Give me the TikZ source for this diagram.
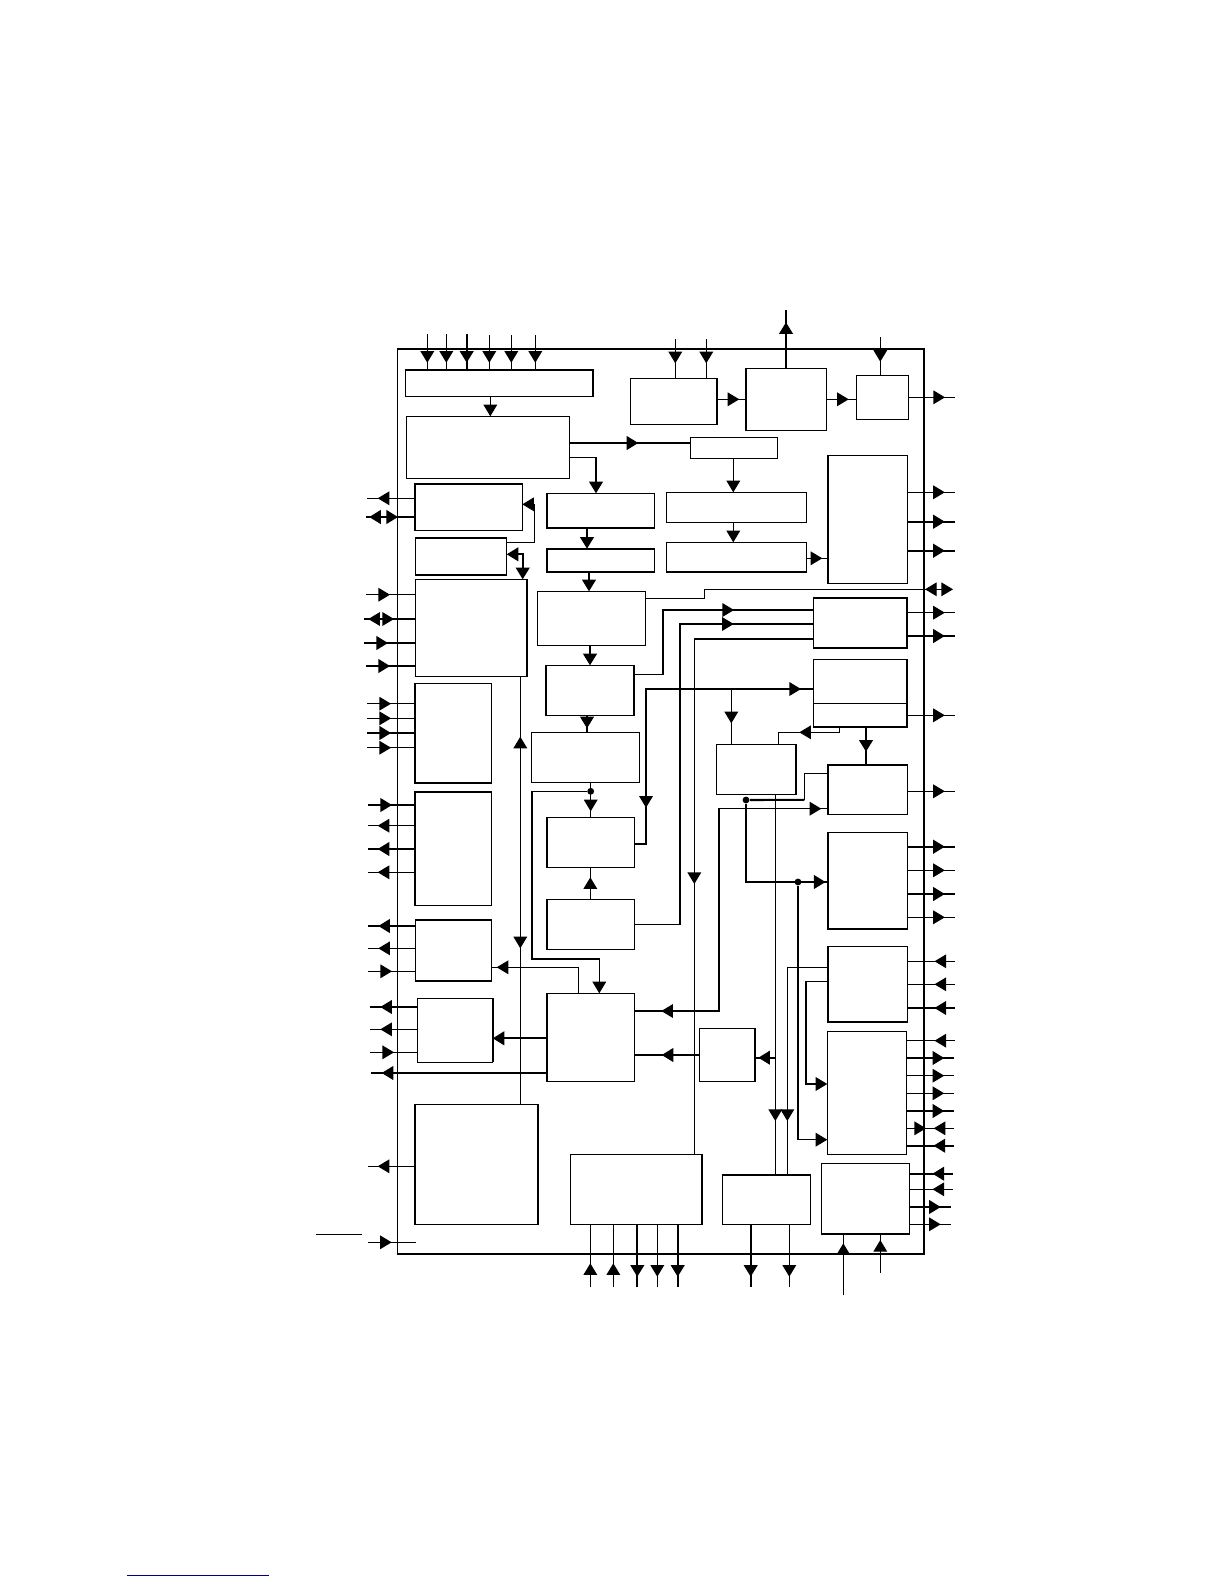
\documentclass[tikz,border=0pt]{standalone}
\usetikzlibrary{arrows.meta,fit,decorations.markings}
\definecolor{linkblue}{RGB}{0,0,128}
\tikzset{
  >={Triangle[length=5.8bp,width=6.8bp]},
  wire/.style={line width=0.6bp, draw=black},
  bus/.style={line width=1.05bp, draw=black},
  blk/.style={wire, inner sep=0pt, outer sep=0pt},
  dot/.style={circle, fill=black, inner sep=0pt, minimum size=3.4bp},
  tipat/.style={postaction={decorate, decoration={markings,
    mark=at position #1*0.5bp with {\arrow{>}}}}},
  tipback/.style={postaction={decorate, decoration={markings,
    mark=at position #1*0.5bp with {\arrowreversed{>}}}}},
}
\begin{document}
\begin{tikzpicture}[x=0.5bp,y=-0.5bp]
    \useasboundingbox (0,0) rectangle (1224,1584);
    \node[blk, fit={(397.5,349) (924,1254)}] (chip) {};

    \node[blk, fit={(405.5,370) (593,396.5)}] (hdr) {};
    \node[blk, fit={(406.3,416.3) (569.3,478.3)}] (ctl) {};
    \node[blk, fit={(414.7,483.7) (522.3,530.3)}] (l1) {};
    \node[blk, fit={(415.3,538) (506.7,575.3)}] (l2) {};
    \node[blk, fit={(415.3,579.3) (527.3,676.7)}] (l3) {};
    \node[blk, fit={(414.7,683.3) (491.7,783)}] (l4) {};
    \node[blk, fit={(414.7,792) (491.7,905.7)}] (l5) {};
    \node[blk, fit={(415.3,919.7) (491.7,981.3)}] (l6) {};
    \node[blk, fit={(417.3,998.3) (492.7,1062.3)}] (l7) {};
    \node[blk, fit={(414.7,1104.3) (538.3,1224.7)}] (l8) {};

    \node[blk, fit={(546.7,493.3) (654.3,528.3)}] (m1) {};
    \node[blk, fit={(546.7,548.7) (654.3,572.3)}] (m2) {};
    \node[blk, fit={(537.3,591.3) (645.7,645.3)}] (m3) {};
    \node[blk, fit={(545.7,665.3) (634.3,715.3)}] (m4) {};
    \node[blk, fit={(531.3,732.3) (639.7,782.3)}] (m5) {};
    \node[blk, fit={(546.7,817.3) (634.3,867.3)}] (m6) {};
    \node[blk, fit={(546.7,899.3) (634.3,949.3)}] (m7) {};
    \node[blk, fit={(546.7,993.3) (634.3,1081.3)}] (m8) {};
    \node[blk, fit={(570.3,1154.3) (702.3,1224.7)}] (m9) {};

    \node[blk, fit={(630.3,378.3) (717.3,424.3)}] (t1) {};
    \node[blk, fit={(745.7,368.3) (826.7,430.3)}] (t2) {};
    \node[blk, fit={(856.3,375.3) (908.7,419.3)}] (t3) {};
    \node[blk, fit={(690.3,437.3) (777.3,458.3)}] (t4) {};
    \node[blk, fit={(666.3,492.3) (806.7,522.3)}] (x1) {};
    \node[blk, fit={(666.3,542.3) (806.7,572.3)}] (x2) {};

    \node[blk, fit={(827.7,455.3) (907.3,583.7)}] (r1) {};
    \node[blk, fit={(813.3,597.7) (907.3,648)}] (r2) {};
    \node[blk, fit={(813.3,659.3) (907.3,727)}] (r3) {};
    \node[blk, fit={(827.7,765) (907.3,814.7)}] (r4) {};
    \node[blk, fit={(827.7,832.7) (907.3,929)}] (r5) {};
    \node[blk, fit={(827.7,946.7) (907.3,1022.3)}] (r6) {};
    \node[blk, fit={(827.3,1031.3) (906.7,1154.3)}] (r7) {};
    \node[blk, fit={(821.3,1163.3) (909.7,1234)}] (r8) {};

    \node[blk, fit={(716.3,744.3) (796.3,794.3)}] (c1) {};
    \node[blk, fit={(699.3,1028.3) (755.3,1081.3)}] (c2) {};
    \node[blk, fit={(722.3,1174.7) (810.7,1224.7)}] (c3) {};

    \foreach \n in {chip,hdr,l1,l2,l5,l6,m2,r2,r4,c3}
      \draw[bus] (\n.north west) -- (\n.north east);
    \foreach \n in {chip,l2,l4,l6,m1,m2,x2,r2,r3,r5,r6,r8}
      \draw[bus] (\n.south west) -- (\n.south east);
    \foreach \n in {l1,l4,l5,l8,m1,m2,m4,m6,m7,m8,t2,r1,r4,r5,r6}
      \draw[bus] (\n.north west) -- (\n.south west);
    \foreach \n in {hdr,l3,l7,l8,m4,m9,t1,r2,r3,c1,c2}
      \draw[bus] (\n.north east) -- (\n.south east);
    \draw[wire] (r3.west |- 0,703.3) -- (r3.east |- 0,703.3);

    \foreach \n/\y/\s/\x in {l3/594.7/wire/366, l3/643/bus/364, l3/666/bus/366,
        l4/703.7/wire/367, l4/718.3/wire/367, l4/733/bus/367, l4/747.7/wire/367,
        l5/805/bus/368, l6/971.3/wire/368, l7/1052.3/wire/370}{
      \coordinate (pin) at (\x,\y);
      \draw[\s, tipat=24] (pin) -- (\n.west |- pin);
    }
    \foreach \n/\y/\s/\x in {l1/498.3/wire/367, l5/825.7/wire/368, l5/849/bus/368,
        l5/872.3/wire/368, l6/926/bus/368, l6/948.3/wire/368, l7/1007/bus/370,
        l7/1029.3/wire/370, l8/1166.3/wire/368}{
      \coordinate (pin) at (\x,\y);
      \draw[\s, tipat=37] (\n.west |- pin) -- (pin);
    }
    \coordinate (pin) at (366,517);
    \draw[bus, tipat=45.5] (l1.west |- pin) -- (pin);
    \draw[bus, tipat=32] (pin) -- (l1.west |- pin);
    \coordinate (pin) at (364,619);
    \draw[wire, tipat=47, tipback=21.3] (l3.west |- pin) -- (pin);
    \coordinate (pinh) at (368,1242.3);
    \coordinate (pini) at (416,1242.3);
    \draw[wire, tipat=23.7] (pinh) -- (pini);
    \coordinate (barl) at (316,1234.3);
    \coordinate (barr) at (362,1234.3);
    \draw[wire] (barl) -- (barr);

    \foreach \n/\y/\s/\x/\t in {t3/397.3/wire/955/36.3, r1/492.3/wire/955/37.5,
        r1/521.7/bus/955/37.5, r1/550.7/bus/955/37.5, r2/612.7/wire/955/37.5,
        r2/636/bus/955/37.5, r3/715.3/wire/955/37.5, r4/791.3/wire/955/37.5,
        r5/846.7/bus/955/37.5, r5/870.3/wire/955/37.5, r5/894/bus/955/37.5,
        r5/917.3/wire/955/37.5, r7/1058/bus/954/37.5, r7/1075.7/wire/954/37.5,
        r7/1093.3/wire/954/37.5, r7/1111/bus/954/37.5, r8/1207/bus/951/31,
        r8/1224.3/wire/951/31}{
      \coordinate (pin) at (\x,\y);
      \draw[\s, tipat=\t] (\n.east |- pin) -- (pin);
    }
    \foreach \n/\y/\s/\x in {r6/961.3/wire/955, r6/984.3/wire/955, r6/1008/bus/955,
        r7/1040.7/wire/955, r7/1145.7/bus/954, r8/1173.7/bus/953, r8/1189.3/wire/953}{
      \coordinate (pin) at (\x,\y);
      \draw[\s, tipat=20.5] (pin) -- (\n.east |- pin);
    }
    \coordinate (pin) at (954,1128.3);
    \draw[wire, tipat=20.3, tipback=28] (pin) -- (r7.east |- pin);

    \foreach \n/\x/\s/\y/\t in {hdr/427.3/wire/334/28.7, hdr/446.3/wire/334/28.7,
        hdr/466.7/bus/334/28.7, hdr/489.3/wire/335/27.7, hdr/511.3/wire/335/27.7,
        hdr/535.3/wire/335/27.7, t1/675.3/wire/339/24.3, t1/706.3/wire/339/24.3,
        t3/880.3/wire/337/24.7}{
      \coordinate (pin) at (\x,\y);
      \draw[\s, tipat=\t] (pin) -- (\n.north -| pin);
    }
    \foreach \n/\x/\s in {m9/637.3/bus, m9/657.3/wire, m9/677.7/bus,
        c3/750.7/bus, c3/789.3/wire}{
      \coordinate (pin) at (\x,1286.7);
      \draw[\s, tipat=52] (\n.south -| pin) -- (pin);
    }
    \foreach \n/\x/\y/\t in {m9/590.3/1286.7/23.4, m9/613.3/1286.7/23.4,
        r8/843.3/1295.3/52, r8/880.3/1272.7/32.7}{
      \coordinate (pin) at (\x,\y);
      \draw[wire, tipat=\t] (pin) -- (\n.south -| pin);
    }
    \coordinate (pin) at (786,310);
    \draw[bus, tipat=46] (t2.north -| pin) -- (pin);

    \draw[wire,->] (hdr.south -| 490.3,0) -- (ctl.north -| 490.3,0);
    \draw[bus, tipat=69] (ctl.east |- 0,443) -- (t4.west |- 0,443);
    \coordinate (bend) at (596,457.3);
    \draw[wire] (ctl.east |- bend) -- (bend);
    \draw[bus,->] (bend) -- (m1.north -| bend);
    \draw[wire, tipat=77.6] (l2.east |- 0,542.3) -- (534.3,542.3) -- (534.3,504.3) -- (l1.east |- 0,504.3);
    \draw[bus,<->] (l2.east |- 0,554.3) -- (522.7,554.3) -- (l3.north -| 522.7,0);
    \draw[bus,->] (m1.south -| 587,0) -- (m2.north -| 587,0);
    \draw[bus,->] (m2.south -| 589,0) -- (m3.north -| 589,0);
    \draw[bus,->] (m3.south -| 590,0) -- (m4.north -| 590,0);
    \draw[bus, tipat=13] (m4.south -| 587,0) -- (m5.north -| 587,0);

    \node[dot] (d1) at (590.7,791.3) {};
    \draw[wire, tipat=29] (m5.south -| d1) -- (m6.north -| d1);
    \draw[wire,->] (d1) -- (532,791.3) -- (532,959) -- (599.3,959) -- (m8.north -| 599.3,0);
    \draw[wire, tipat=22] (m7.north -| 590.3,0) -- (m6.south -| 590.3,0);
    \draw[wire, tipat=108] (m8.north -| 578.7,0) -- (578.7,967.3) -- (l6.east |- 0,967.3);
    \draw[wire, tipat=271.6, tipback=60] (l3.south -| 520.3,0) -- (l8.north -| 520.3,0);

    \draw[wire, tipat=22] (t1.east |- 0,399.3) -- (t2.west |- 0,399.3);
    \draw[wire, tipat=22] (t2.east |- 0,399.3) -- (t3.west |- 0,399.3);
    \draw[wire,->] (t4.south -| 733.3,0) -- (x1.north -| 733.3,0);
    \draw[wire,->] (x1.south -| 733.3,0) -- (x2.north -| 733.3,0);
    \draw[wire, tipat=15.6] (x2.east |- 0,558.3) -- (r1.west |- 0,558.3);
    \coordinate (pin) at (953,589.3);
    \draw[wire,->, tipback=288.3] (m3.east |- 0,598.3) -- (704.3,598.3) -- (704.3,589.3) -- (pin);

    \draw[wire, tipat=164] (m4.east |- 0,674.3) -- (663,674.3) -- (663,610) -- (r2.west |- 0,610);
    \draw[wire, tipat=399.7] (m7.east |- 0,924.3) -- (680,924.3) -- (680,624) -- (r2.west |- 0,624);
    \coordinate (bend) at (694.3,639);
    \draw[bus] (r2.west |- bend) -- (bend);
    \draw[wire, tipat=245] (bend) -- (m9.north -| bend);
    \draw[wire, tipback=48, tipat=321.7] (m6.east |- 0,844) -- (646,844) -- (646,689) -- (r3.west |- 0,689);
    \draw[wire, tipat=34.3] (731.3,689) -- (c1.north -| 731.3,0);
    \draw[wire, tipat=45.3] (r3.south -| 839.3,0) -- (839.3,732.3) -- (778.3,732.3) -- (c1.north -| 778.3,0);
    \draw[bus, tipat=24.7] (r3.south -| 866,0) -- (r4.north -| 866,0);

    \node[dot] (d2) at (746,800) {};
    \node[dot] (d3) at (798,882) {};
    \draw[wire] (r4.west |- 0,773.3) -- (804.3,773.3) -- (804.3,799.8);
    \draw[bus] (804.3,799.8) -- (d2);
    \draw[bus, tipat=157.7] (d2) -- (746,882) -- (r5.west |- 0,882);
    \draw[wire,->] (d3) -- (798,1139.7) -- (r7.west |- 0,1139.7);
    \draw[wire, tipback=27, tipat=389.3] (m8.east |- 0,1011) -- (719,1011) -- (719,808.7) -- (r4.west |- 0,808.7);

    \draw[wire, tipat=326.7] (c1.south -| 775.3,0) -- (c3.north -| 775.3,0);
    \draw[wire, tipat=194.1] (r6.west |- 0,967.3) -- (787.3,967.3) -- (c3.north -| 787.3,0);
    \draw[bus, tipat=17] (775.3,1057.7) -- (c2.east |- 0,1057.7);
    \draw[wire,->] (r6.west |- 0,981.7) -- (806,981.7) -- (806,1084) -- (r7.west |- 0,1084);

    \draw[bus, tipat=37.6] (c2.west |- 0,1055) -- (m8.east |- 0,1055);
    \draw[bus,->] (m8.west |- 0,1038.3) -- (l7.east |- 0,1038.3);
    \coordinate (pin) at (371,1073);
    \draw[bus, tipat=165] (m8.west |- pin) -- (pin);

    \coordinate (linkl) at (127,1575);
    \coordinate (linkr) at (269,1575);
    \draw[line width=0.5bp, draw=linkblue] (linkl) -- (linkr);
\end{tikzpicture}
\end{document}
